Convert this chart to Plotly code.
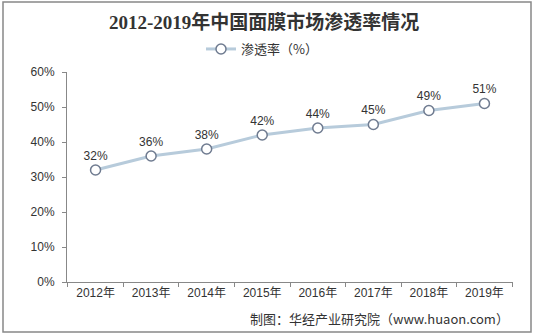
import plotly.graph_objects as go

years = ["2012年", "2013年", "2014年", "2015年", "2016年", "2017年", "2018年", "2019年"]
rates = [32, 36, 38, 42, 44, 45, 49, 51]
labels = [f"{v}%" for v in rates]
y_ticks = [0, 10, 20, 30, 40, 50, 60]
y_tick_text = [f"{v}%" for v in y_ticks]

L, R, T, B = 67, 22, 72, 54
W, H = 535, 336
pw, ph = W - L - R, H - T - B

def px_x(p):
    return (p - L) / pw

def px_y(p):
    return (H - B - p) / ph

fig = go.Figure()
fig.add_trace(go.Scatter(
    x=years, y=rates, text=labels,
    mode="lines+markers+text",
    name="渗透率（%）",
    textposition="top center",
    textfont=dict(size=12, color="#333333", family="Arial, Liberation Sans, sans-serif"),
    line=dict(color="#b7cbdb", width=3),
    marker=dict(symbol="circle", size=10, color="white",
                line=dict(color="#6f7b90", width=1.5)),
))

fig.update_layout(
    width=W, height=H,
    margin=dict(l=L, r=R, t=T, b=B),
    paper_bgcolor="white", plot_bgcolor="white",
    font=dict(family="Liberation Sans, Noto Sans CJK SC, sans-serif", size=12, color="#333333"),
    showlegend=True,
    legend=dict(orientation="h", x=px_x(262), xanchor="center", y=px_y(49), yanchor="middle",
                font=dict(size=13, family="Noto Sans CJK SC, sans-serif", color="#333333"),
                bgcolor="rgba(0,0,0,0)"),
    xaxis=dict(type="category", showline=True, linecolor="#888888", linewidth=1,
               ticks="outside", tickson="boundaries", ticklen=4, tickcolor="#888888",
               showgrid=False, tickfont=dict(size=12, family="Liberation Sans, Noto Sans CJK SC, sans-serif")),
    yaxis=dict(range=[0, 60], tickvals=y_ticks, ticktext=y_tick_text, showline=True,
               linecolor="#888888", linewidth=1, ticks="outside", ticklen=4, tickcolor="#888888",
               ticklabelstandoff=5,
               showgrid=False, zeroline=False, tickfont=dict(size=12)),
)

fig.add_annotation(text="<b>2012-2019年中国面膜市场渗透率情况</b>", xref="paper", yref="paper",
                   x=px_x(264), y=px_y(22), xanchor="center", yanchor="middle", showarrow=False,
                   font=dict(size=19, family="Liberation Serif, Noto Sans CJK SC, serif", color="#333333"))
fig.add_annotation(text="制图：华经产业研究院（www.huaon.com）", xref="paper", yref="paper",
                   x=px_x(511), y=px_y(318), xanchor="right", yanchor="middle", showarrow=False,
                   font=dict(size=13, family="Noto Sans CJK SC, Liberation Sans, sans-serif", color="#333333"))

fig.add_shape(type="rect", xref="paper", yref="paper",
              x0=px_x(3), x1=px_x(531), y0=px_y(332), y1=px_y(2),
              line=dict(color="#888888", width=1.5), fillcolor="rgba(0,0,0,0)", layer="below")

fig.write_html("out.html")
